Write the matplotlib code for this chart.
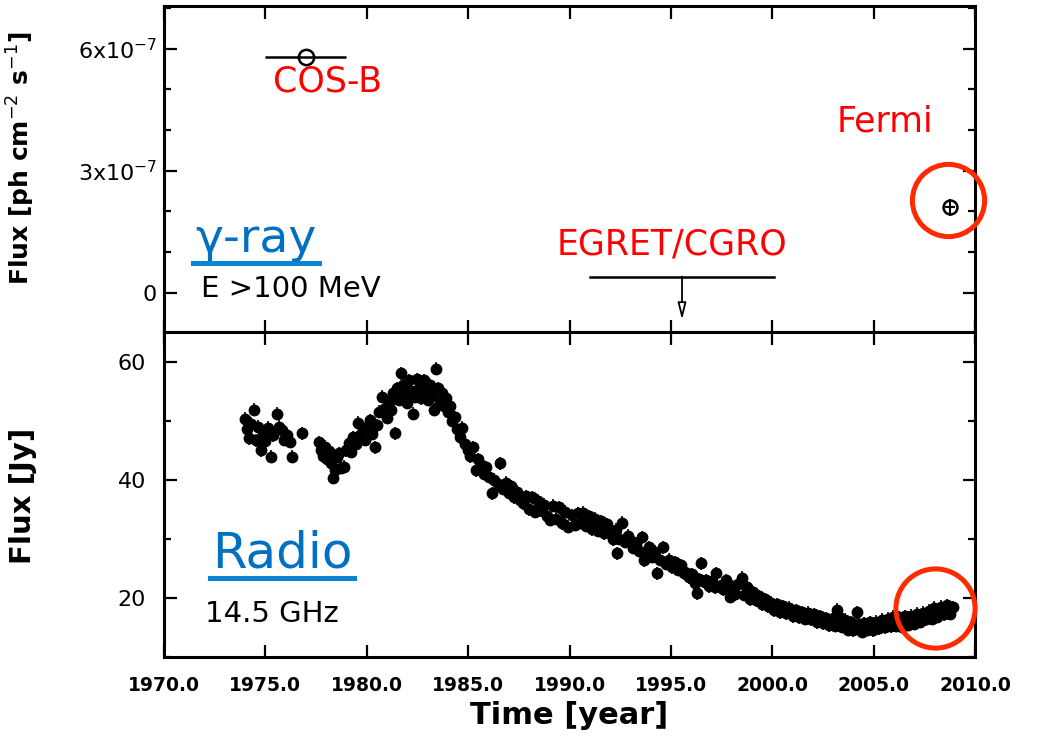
import matplotlib
matplotlib.use("Agg")
import matplotlib.pyplot as plt
from matplotlib.ticker import MultipleLocator, FuncFormatter
from matplotlib.lines import Line2D

# gamma-ray fluxes above 100 MeV
cosb_year, cosb_xerr, cosb_flux = 1977.0, 2.0, 5.8e-7
fermi_year, fermi_xerr = 2008.75, 0.25
fermi_flux, fermi_yerr = 2.1e-7, 0.2e-7
egret_start, egret_end, egret_limit = 1991.0, 2000.1, 0.4e-7

# 14.5 GHz radio light curve
radio_year = [
    1974.0, 1974.1, 1974.2, 1974.3, 1974.45, 1974.55, 1974.65, 1974.8, 1974.9, 1975.0,
    1975.15, 1975.3, 1975.4, 1975.55, 1975.65, 1975.8, 1975.9, 1976.05, 1976.2, 1976.3,
    1976.8, 1977.65, 1977.75, 1977.85, 1977.95, 1978.05, 1978.15, 1978.25, 1978.35, 1978.45,
    1978.55, 1978.65, 1978.75, 1978.9, 1979.0, 1979.1, 1979.2, 1979.3, 1979.45, 1979.55,
    1979.65, 1979.8, 1979.9, 1980.0, 1980.15, 1980.25, 1980.4, 1980.5, 1980.6, 1980.75,
    1980.85, 1981.0, 1981.1, 1981.2, 1981.3, 1981.4, 1981.5, 1981.6, 1981.7, 1981.8,
    1981.9, 1982.0, 1982.1, 1982.2, 1982.3, 1982.4, 1982.5, 1982.6, 1982.7, 1982.8,
    1982.9, 1983.0, 1983.1, 1983.2, 1983.3, 1983.4, 1983.5, 1983.6, 1983.7, 1983.8,
    1983.9, 1984.0, 1984.1, 1984.2, 1984.35, 1984.45, 1984.6, 1984.7, 1984.85, 1985.0,
    1985.1, 1985.25, 1985.4, 1985.5, 1985.65, 1985.8, 1985.9, 1986.05, 1986.2, 1986.3,
    1986.45, 1986.57, 1986.7, 1986.85, 1987.0, 1987.1, 1987.25, 1987.4, 1987.55, 1987.7,
    1987.85, 1988.0, 1988.15, 1988.3, 1988.45, 1988.6, 1988.75, 1988.9, 1989.05, 1989.2,
    1989.35, 1989.5, 1989.65, 1989.8, 1989.95, 1990.1, 1990.25, 1990.4, 1990.55, 1990.67,
    1990.8, 1990.95, 1991.1, 1991.25, 1991.4, 1991.55, 1991.7, 1991.85, 1992.0, 1992.15,
    1992.3, 1992.34, 1992.45, 1992.6, 1992.75, 1992.9, 1993.0, 1993.15, 1993.3, 1993.45,
    1993.6, 1993.65, 1993.75, 1993.9, 1994.05, 1994.2, 1994.3, 1994.45, 1994.6, 1994.75,
    1994.9, 1995.05, 1995.2, 1995.35, 1995.5, 1995.65, 1995.8, 1995.9, 1996.05, 1996.2,
    1996.3, 1996.4, 1996.5, 1996.6, 1996.75, 1996.9, 1997.05, 1997.2, 1997.25, 1997.4,
    1997.55, 1997.7, 1997.9, 1998.0, 1998.15, 1998.3, 1998.5, 1998.6, 1998.75, 1998.9,
    1999.05, 1999.2, 1999.35, 1999.5, 1999.65, 1999.8, 1999.95, 2000.1, 2000.25, 2000.4,
    2000.55, 2000.7, 2000.85, 2001.0, 2001.15, 2001.3, 2001.45, 2001.6, 2001.75, 2001.9,
    2002.05, 2002.2, 2002.35, 2002.5, 2002.65, 2002.8, 2002.95, 2003.1, 2003.2, 2003.3,
    2003.45, 2003.6, 2003.75, 2003.9, 2004.0, 2004.17, 2004.3, 2004.45, 2004.55, 2004.65,
    2004.8, 2004.95, 2005.1, 2005.25, 2005.4, 2005.55, 2005.7, 2005.85, 2005.96, 2006.1,
    2006.25, 2006.4, 2006.55, 2006.7, 2006.85, 2007.0, 2007.15, 2007.3, 2007.45, 2007.6,
    2007.75, 2007.9, 2008.0, 2008.15, 2008.3, 2008.45, 2008.6, 2008.75, 2008.9,
]
radio_flux = [
    50.3, 48.5, 47.0, 49.5, 51.8, 46.7, 49.0, 45.0, 47.8, 46.5,
    48.8, 43.9, 47.5, 51.2, 49.0, 48.4, 46.8, 47.5, 46.4, 43.9,
    47.9, 46.3, 45.0, 44.0, 45.6, 43.5, 44.8, 42.8, 40.3, 41.6,
    43.9, 44.5, 42.0, 42.2, 45.0, 46.2, 44.7, 47.2, 46.0, 49.6,
    47.5, 48.5, 46.8, 49.0, 50.1, 47.8, 45.5, 49.2, 51.5, 54.0,
    52.0, 50.5, 53.0, 51.8, 54.6, 47.9, 55.5, 53.5, 58.0, 56.0,
    54.5, 53.0, 56.8, 55.0, 51.2, 54.0, 57.0, 55.5, 53.8, 56.8,
    55.0, 53.5, 56.0, 54.2, 51.8, 58.8, 55.5, 53.0, 54.6, 52.5,
    53.8, 51.5, 52.5, 50.0, 50.6, 48.5, 47.2, 48.8, 46.0, 45.0,
    44.0, 45.5, 41.6, 43.5, 42.5, 41.0, 42.1, 40.5, 37.7, 40.0,
    39.2, 42.8, 38.5, 39.5, 37.8, 38.9, 37.0, 38.0, 36.5, 36.0,
    37.2, 35.0, 37.0, 34.6, 36.4, 34.8, 35.8, 33.9, 33.2, 35.6,
    33.4, 35.3, 32.6, 34.6, 32.0, 34.0, 32.4, 34.3, 32.7, 34.4,
    32.2, 33.8, 31.6, 33.4, 31.4, 33.0, 30.9, 32.5, 31.0, 29.9,
    31.5, 27.6, 30.0, 32.7, 29.5, 30.5, 29.8, 28.5, 29.2, 28.0,
    30.3, 26.4, 27.5, 28.6, 27.0, 27.8, 24.2, 26.5, 28.6, 25.8,
    26.5, 25.2, 26.0, 24.8, 25.5, 24.2, 24.2, 23.5, 24.0, 22.5,
    20.8, 23.2, 25.9, 22.8, 23.0, 22.0, 22.8, 21.8, 24.2, 22.0,
    21.5, 23.0, 20.2, 22.0, 20.6, 22.3, 23.4, 20.5, 21.8, 19.8,
    21.0, 19.6, 20.3, 18.9, 19.8, 18.6, 19.2, 17.9, 18.9, 17.6,
    18.6, 17.4, 18.3, 16.9, 17.9, 16.7, 17.6, 16.5, 17.5, 16.4,
    17.2, 15.9, 16.9, 15.7, 16.6, 15.4, 16.4, 15.3, 18.0, 16.8,
    15.1, 16.3, 14.6, 15.9, 14.5, 17.6, 15.6, 14.3, 15.7, 14.6,
    15.9, 14.5, 16.0, 14.9, 16.3, 15.0, 16.5, 15.2, 16.8, 15.3,
    16.7, 15.1, 16.9, 15.5, 17.0, 15.6, 17.3, 16.0, 17.5, 16.4,
    17.8, 16.5, 18.3, 16.8, 18.5, 17.2, 18.8, 17.3, 18.4,
]
radio_err = 1.1

# highlighted regions (centre year, centre flux)
gamma_mark = (2008.67, 2.29e-7)
radio_mark = (2008.03, 18.3)

RED = "#ff0000"
RING = "#ff2a00"
BLUE = "#0070c0"
LINE_BLUE = "#0a84d0"

fig = plt.figure(figsize=(10.52, 7.45), dpi=100)
ax1 = fig.add_axes([0.1559, 0.5544, 0.7709, 0.4376])
ax2 = fig.add_axes([0.1559, 0.1181, 0.7709, 0.4363], sharex=ax1)

for ax in (ax1, ax2):
    for s in ax.spines.values():
        s.set_linewidth(2.2)
    ax.tick_params(which="both", direction="in", top=True, right=True, width=1.6)
    ax.tick_params(which="major", length=9)
    ax.tick_params(which="minor", length=5)
    ax.tick_params(axis="y", labelsize=16)

ax1.set_xlim(1970, 2010)
ax1.xaxis.set_major_locator(MultipleLocator(5))
ax1.tick_params(axis="x", labelbottom=False)

# gamma-ray panel
ax1.set_ylim(-0.96e-7, 7.05e-7)
ax1.yaxis.set_major_locator(MultipleLocator(3e-7))
ax1.yaxis.set_minor_locator(MultipleLocator(1e-7))
ax1.yaxis.set_major_formatter(FuncFormatter(
    lambda v, p: "0" if abs(v) < 1e-9 else "%dx10$^{-7}$" % round(v / 1e-7)))
ax1.tick_params(axis="y", pad=5)

ax1.errorbar([cosb_year], [cosb_flux], xerr=[cosb_xerr], fmt="o", ms=11,
             mfc="none", mec="black", mew=1.8, color="black", elinewidth=1.8, capsize=0)
ax1.errorbar([fermi_year], [fermi_flux], xerr=[fermi_xerr], yerr=[fermi_yerr], fmt="o",
             ms=10, mfc="none", mec="black", mew=1.8, color="black", elinewidth=1.5, capsize=0)
ax1.plot([egret_start, egret_end], [egret_limit, egret_limit], color="black", lw=1.8)
egret_mid = (egret_start + egret_end) / 2
ax1.annotate("", xy=(egret_mid, egret_limit - 1.06e-7), xytext=(egret_mid, egret_limit),
             arrowprops=dict(arrowstyle="-|>,head_length=1.0,head_width=0.25",
                             fc="white", ec="black", lw=1.3, shrinkA=0, shrinkB=0))

ax1.text(1978.05, 5.19e-7, "COS-B", color=RED, fontsize=25, ha="center", va="center")
ax1.text(2005.56, 4.2e-7, "Fermi", color=RED, fontsize=25, ha="center", va="center")
ax1.text(1995.06, 1.18e-7, "EGRET/CGRO", color=RED, fontsize=25, ha="center", va="center")
gamma_txt = ax1.text(1971.55, 1.0e-7, "γ-ray", color=BLUE, fontsize=34, ha="left",
                     va="baseline")
ax1.text(1971.8, -0.1e-7, "E >100 MeV", color="black", fontsize=21, ha="left",
         va="baseline")
ax1.plot([gamma_mark[0]], [gamma_mark[1]], "o", ms=52, mfc="none", mec=RING,
         mew=3.6, clip_on=False, zorder=5)

ax1.set_ylabel("Flux [ph cm$^{-2}$ s$^{-1}$]", fontsize=18, fontweight="bold")
ax1.yaxis.set_label_coords(-0.157, 0.534)

# radio panel
ax2.set_ylim(10, 65)
ax2.yaxis.set_major_locator(MultipleLocator(20))
ax2.yaxis.set_minor_locator(MultipleLocator(10))
ax2.tick_params(axis="y", pad=13)
ax2.tick_params(axis="x", labelsize=13.5, pad=14)
ax2.xaxis.set_major_formatter(FuncFormatter(lambda v, p: "%.1f" % v))

ax2.errorbar(radio_year, radio_flux, yerr=radio_err, fmt="o", ms=7.5, color="black",
             elinewidth=1.2, capsize=0)
radio_txt = ax2.text(1972.35, 25.2, "Radio", color=BLUE, fontsize=36, ha="left",
                     va="baseline")
ax2.text(1972.0, 15.95, "14.5 GHz", color="black", fontsize=21, ha="left",
         va="baseline")
ax2.plot([radio_mark[0]], [radio_mark[1]], "o", ms=57, mfc="none", mec=RING,
         mew=3.6, clip_on=False, zorder=5)

ax2.set_ylabel("Flux [Jy]", fontsize=21, fontweight="bold")
ax2.yaxis.set_label_coords(-0.157, 0.495)
ax2.set_xlabel("Time [year]", fontsize=22, fontweight="bold")

fig.canvas.draw()
for lab in ax2.get_xticklabels():
    lab.set_fontweight("bold")

# underline the two band names
renderer = fig.canvas.get_renderer()
for t in (gamma_txt, radio_txt):
    bb = t.get_window_extent(renderer).transformed(fig.transFigure.inverted())
    y = bb.y0 - 1.0 / 745
    fig.add_artist(Line2D([bb.x0 - 2.0 / 1052, bb.x1 + 2.0 / 1052], [y, y],
                          transform=fig.transFigure, color=LINE_BLUE, lw=3.6))

fig.savefig("out.png", dpi=100)
